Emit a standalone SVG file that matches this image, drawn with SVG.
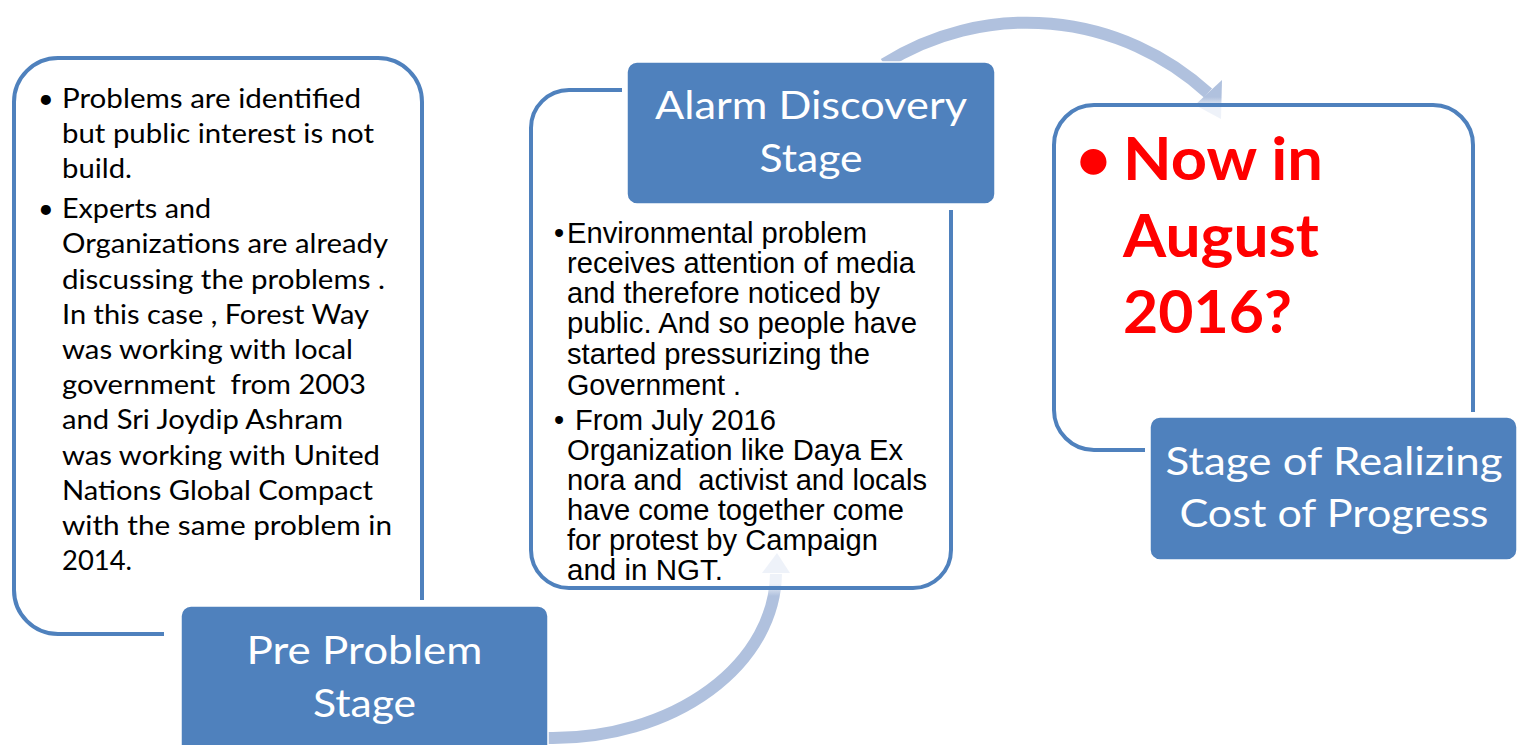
<svg xmlns="http://www.w3.org/2000/svg" width="1520" height="745" viewBox="0 0 1520 745">
<style>
.frame{fill:none;stroke:#4f81bd;stroke-width:4}
.stage{fill:#4f81bd;stroke:#ffffff;stroke-width:1.5}
.title{font-family:Lato,"Open Sans",sans-serif;font-size:38px;fill:#ffffff;text-anchor:middle}
.body{font-family:Lato,"Open Sans",sans-serif;font-size:27px;fill:#000000}
.arial{font-family:"Liberation Sans",Arial,sans-serif;font-size:29px;fill:#000000}
.red{font-family:Lato,"Open Sans",sans-serif;font-size:60px;font-weight:bold;fill:#ff0000}
.arc{fill:none;stroke-width:12}
</style>
<defs>
<linearGradient id="gBottom" gradientUnits="userSpaceOnUse" x1="0" y1="596" x2="0" y2="584">
<stop offset="0" stop-color="#b0c1de"/>
<stop offset="1" stop-color="#eef2f9"/>
</linearGradient>
<linearGradient id="gTop" gradientUnits="userSpaceOnUse" x1="0" y1="97" x2="0" y2="108">
<stop offset="0" stop-color="#b0c1de"/>
<stop offset="1" stop-color="#eef2f9"/>
</linearGradient>
</defs>
<rect width="1520" height="745" fill="#ffffff"/>
<g id="connectors">
<path class="arc" stroke="url(#gBottom)" d="M 540 738 L 553 738 A 223 166 0 0 0 776 574"/>
<polygon fill="url(#gBottom)" points="762,573 790,573 777,553"/>
<path class="arc" stroke="url(#gTop)" d="M 884 64 A 268 268 0 0 1 1208 93"/>
<polygon fill="url(#gTop)" points="1195,105 1222,80 1221,119"/>
</g>
<g id="pre-problem">
<path class="frame" d="M 164 634 L 58 634 A 44 44 0 0 1 14 590 L 14 102 A 44 44 0 0 1 58 58 L 378 58 A 44 44 0 0 1 422 102 L 422 600"/>
<text class="body" x="38" y="108">•</text>
<text class="body" x="62" y="108" textLength="299" lengthAdjust="spacingAndGlyphs">Problems are identified</text>
<text class="body" x="62" y="143" textLength="312" lengthAdjust="spacingAndGlyphs">but public interest is not</text>
<text class="body" x="62" y="178" textLength="70" lengthAdjust="spacingAndGlyphs">build.</text>
<text class="body" x="38" y="218">•</text>
<text class="body" x="62" y="218" textLength="149" lengthAdjust="spacingAndGlyphs">Experts and</text>
<text class="body" x="62" y="253" textLength="326" lengthAdjust="spacingAndGlyphs">Organizations are already</text>
<text class="body" x="62" y="289" textLength="323" lengthAdjust="spacingAndGlyphs">discussing the problems .</text>
<text class="body" x="62" y="324" textLength="307" lengthAdjust="spacingAndGlyphs">In this case , Forest Way</text>
<text class="body" x="62" y="359" textLength="291" lengthAdjust="spacingAndGlyphs">was working with local</text>
<text class="body" x="62" y="394" textLength="304" lengthAdjust="spacingAndGlyphs" xml:space="preserve">government  from 2003</text>
<text class="body" x="62" y="429" textLength="281" lengthAdjust="spacingAndGlyphs">and Sri Joydip Ashram</text>
<text class="body" x="62" y="465" textLength="318" lengthAdjust="spacingAndGlyphs">was working with United</text>
<text class="body" x="62" y="500" textLength="311" lengthAdjust="spacingAndGlyphs">Nations Global Compact</text>
<text class="body" x="62" y="535" textLength="330" lengthAdjust="spacingAndGlyphs">with the same problem in</text>
<text class="body" x="62" y="570" textLength="70" lengthAdjust="spacingAndGlyphs">2014.</text>
<rect class="stage" x="181" y="606" width="367" height="160" rx="10"/>
<text class="title" x="364.5" y="664" textLength="236" lengthAdjust="spacingAndGlyphs">Pre Problem</text>
<text class="title" x="364.5" y="717" textLength="103" lengthAdjust="spacingAndGlyphs">Stage</text>
</g>
<g id="alarm-discovery">
<path class="frame" d="M 951 210 L 951 550 A 38 38 0 0 1 913 588 L 569 588 A 38 38 0 0 1 531 550 L 531 128 A 38 38 0 0 1 569 90 L 622 90"/>
<text class="arial" x="554" y="243">•</text>
<text class="arial" x="567" y="243" textLength="300" lengthAdjust="spacingAndGlyphs">Environmental problem</text>
<text class="arial" x="567" y="273" textLength="348" lengthAdjust="spacingAndGlyphs">receives attention of media</text>
<text class="arial" x="567" y="303" textLength="313" lengthAdjust="spacingAndGlyphs">and therefore noticed by</text>
<text class="arial" x="567" y="333" textLength="350" lengthAdjust="spacingAndGlyphs">public. And so people have</text>
<text class="arial" x="567" y="364" textLength="303" lengthAdjust="spacingAndGlyphs">started pressurizing the</text>
<text class="arial" x="567" y="395" textLength="174" lengthAdjust="spacingAndGlyphs">Government .</text>
<text class="arial" x="554" y="430">•</text>
<text class="arial" x="575" y="430" textLength="201" lengthAdjust="spacingAndGlyphs">From July 2016</text>
<text class="arial" x="567" y="460" textLength="336" lengthAdjust="spacingAndGlyphs">Organization like Daya Ex</text>
<text class="arial" x="567" y="490" textLength="360" lengthAdjust="spacingAndGlyphs" xml:space="preserve">nora and  activist and locals</text>
<text class="arial" x="567" y="520" textLength="337" lengthAdjust="spacingAndGlyphs">have come together come</text>
<text class="arial" x="567" y="550" textLength="311" lengthAdjust="spacingAndGlyphs">for protest by Campaign</text>
<text class="arial" x="567" y="580" textLength="156" lengthAdjust="spacingAndGlyphs">and in NGT.</text>
<rect class="stage" x="627" y="62" width="368" height="142" rx="10"/>
<text class="title" x="811" y="119" textLength="312" lengthAdjust="spacingAndGlyphs">Alarm Discovery</text>
<text class="title" x="811" y="172" textLength="103" lengthAdjust="spacingAndGlyphs">Stage</text>
</g>
<g id="realizing-cost">
<path class="frame" d="M 1473 412 L 1473 145 A 40 40 0 0 0 1433 105 L 1094 105 A 40 40 0 0 0 1054 145 L 1054 410 A 40 40 0 0 0 1094 450 L 1145 450"/>
<text class="red" x="1076" y="180">•</text>
<text class="red" x="1123" y="180" textLength="200" lengthAdjust="spacingAndGlyphs">Now in</text>
<text class="red" x="1123" y="257" textLength="196" lengthAdjust="spacingAndGlyphs">August</text>
<text class="red" x="1123" y="333" textLength="169" lengthAdjust="spacingAndGlyphs">2016?</text>
<rect class="stage" x="1150" y="417" width="367" height="143" rx="10"/>
<text class="title" x="1334" y="475" textLength="337" lengthAdjust="spacingAndGlyphs">Stage of Realizing</text>
<text class="title" x="1334" y="527" textLength="309" lengthAdjust="spacingAndGlyphs">Cost of Progress</text>
</g>
</svg>
